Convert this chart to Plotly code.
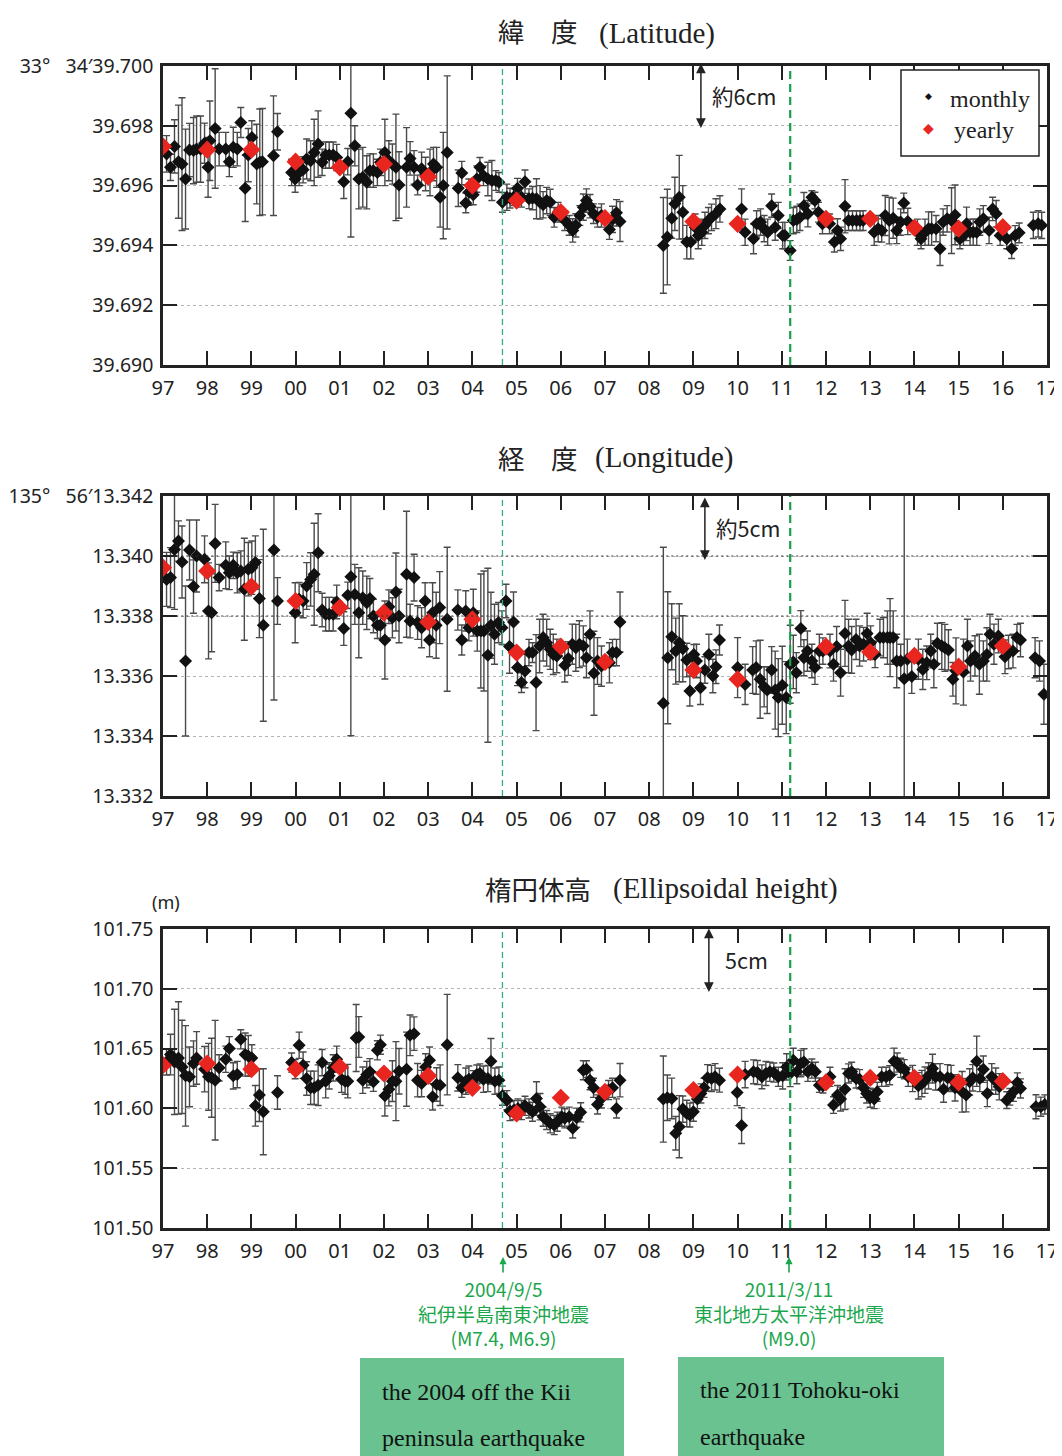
import plotly.graph_objects as go

# ---------------- DATA ----------------
lat_t = [1997.08,1997.17,1997.26,1997.35,1997.43,1997.51,1997.60,1997.69,1997.76,1997.85,1997.94,
         1998.02,1998.06,1998.18,1998.27,1998.42,1998.50,1998.59,1998.68,1998.76,1998.86,1998.93,
         1999.01,1999.12,1999.19,1999.25,1999.50,1999.59,1999.91,1999.99,
         2000.08,2000.17,2000.25,2000.34,2000.42,2000.51,2000.60,2000.68,2000.76,2000.85,2000.93,
         2001.09,2001.18,2001.25,2001.34,2001.43,2001.52,2001.61,2001.68,2001.76,2001.85,2001.92,
         2002.02,2002.11,2002.19,2002.27,2002.34,2002.51,2002.59,2002.68,2002.76,2002.85,2002.94,
         2003.04,2003.12,2003.19,2003.27,2003.34,2003.43,2003.68,2003.76,2003.85,2003.92,
         2004.02,2004.10,2004.17,2004.25,2004.35,2004.44,2004.53,2004.60,2004.68,2004.78,2004.85,2004.93,
         2005.02,2005.11,2005.19,2005.28,2005.36,2005.45,2005.53,2005.60,2005.68,2005.76,2005.85,2005.94,
         2006.09,2006.19,2006.27,2006.34,2006.43,2006.51,2006.58,2006.66,2006.74,2006.83,2006.92,
         2007.10,2007.17,2007.26,2007.34,
         2008.32,2008.41,2008.51,2008.58,2008.68,2008.76,2008.85,2008.94,
         2009.04,2009.11,2009.19,2009.26,2009.34,2009.41,2009.51,2009.60,
         2010.09,2010.17,2010.36,2010.43,2010.52,2010.60,2010.68,2010.77,2010.85,2010.92,
         2011.02,2011.07,2011.19,2011.26,2011.34,2011.41,2011.50,2011.59,2011.68,2011.75,2011.83,2011.92,
         2012.08,2012.19,2012.26,2012.33,2012.43,2012.51,2012.60,2012.69,2012.77,2012.84,
         2013.09,2013.18,2013.26,2013.34,2013.43,2013.52,2013.60,2013.69,2013.76,2013.85,
         2014.07,2014.15,2014.24,2014.32,2014.39,2014.49,2014.58,2014.65,2014.74,2014.84,2014.92,
         2015.03,2015.11,2015.18,2015.26,2015.33,2015.41,2015.48,2015.56,2015.69,2015.77,2015.85,2015.94,
         2016.09,2016.20,2016.28,2016.37,2016.69,2016.80,2016.88]
lat_v = [39.69706,39.69661,39.69731,39.69680,39.69672,39.69622,39.69719,39.69717,39.69722,39.69722,39.69742,
         39.69661,39.69750,39.69791,39.69722,39.69722,39.69680,39.69728,39.69722,39.69811,39.69591,39.69702,
         39.69761,39.69672,39.69678,39.69680,39.69700,39.69780,39.69644,39.69622,
         39.69644,39.69653,39.69689,39.69683,39.69711,39.69739,39.69678,39.69702,39.69702,39.69702,39.69694,
         39.69613,39.69680,39.69842,39.69733,39.69622,39.69628,39.69611,39.69650,39.69650,39.69644,39.69678,
         39.69711,39.69683,39.69672,39.69661,39.69602,39.69661,39.69691,39.69661,39.69602,39.69656,39.69639,
         39.69644,39.69672,39.69661,39.69561,39.69600,39.69711,39.69591,39.69642,39.69542,39.69578,
         39.69569,39.69622,39.69661,39.69633,39.69622,39.69617,39.69617,39.69611,39.69544,39.69561,39.69558,39.69561,
         39.69591,39.69561,39.69613,39.69556,39.69558,39.69556,39.69544,39.69536,39.69550,39.69544,39.69494,39.69511,
         39.69483,39.69467,39.69450,39.69467,39.69500,39.69528,39.69550,39.69531,39.69506,39.69494,39.69500,
         39.69453,39.69487,39.69509,39.69480,
         39.69400,39.69428,39.69491,39.69539,39.69561,39.69511,39.69411,39.69411,
         39.69461,39.69433,39.69444,39.69467,39.69483,39.69494,39.69506,39.69522,
         39.69522,39.69444,39.69422,39.69472,39.69478,39.69456,39.69444,39.69533,39.69461,39.69500,
         39.69433,39.69433,39.69383,39.69483,39.69487,39.69494,39.69533,39.69506,39.69561,39.69550,39.69511,39.69472,
         39.69472,39.69411,39.69450,39.69422,39.69531,39.69483,39.69483,39.69483,39.69483,39.69483,
         39.69444,39.69456,39.69450,39.69500,39.69483,39.69491,39.69450,39.69478,39.69542,39.69480,
         39.69444,39.69422,39.69444,39.69456,39.69456,39.69456,39.69389,39.69478,39.69489,39.69483,39.69502,
         39.69422,39.69433,39.69472,39.69444,39.69444,39.69444,39.69478,39.69489,39.69450,39.69522,39.69506,39.69433,
         39.69422,39.69389,39.69433,39.69442,39.69467,39.69472,39.69467]
lat_e = [.00061,.00044,.00089,.00189,.00222,.00167,.00089,.00111,.00111,.00111,.00067,
         .00100,.00133,.00200,.00056,.00056,.00050,.00067,.00056,.00050,.00111,.00089,
         .00056,.00133,.00178,.00178,.00200,.00061,.00044,.00044,
         .00044,.00044,.00067,.00067,.00111,.00111,.00044,.00044,.00044,.00044,.00044,
         .00056,.00044,.00414,.00067,.00100,.00100,.00089,.00056,.00056,.00044,.00044,
         .00111,.00067,.00067,.00178,.00111,.00133,.00056,.00056,.00033,.00056,.00056,
         .00078,.00056,.00067,.00100,.00178,.00256,.00061,.00039,.00033,.00044,
         .00033,.00044,.00033,.00033,.00056,.00067,.00033,.00033,.00033,.00044,.00033,.00028,
         .00033,.00033,.00039,.00033,.00039,.00067,.00056,.00044,.00044,.00044,.00033,.00033,
         .00033,.00033,.00039,.00039,.00033,.00044,.00039,.00039,.00033,.00033,.00039,
         .00033,.00044,.00044,.00067,
         .00160,.00160,.00067,.00089,.00140,.00089,.00056,.00056,
         .00044,.00044,.00044,.00044,.00044,.00044,.00050,.00044,
         .00067,.00044,.00050,.00044,.00044,.00044,.00044,.00039,.00044,.00044,
         .00044,.00044,.00033,.00044,.00044,.00044,.00044,.00044,.00022,.00028,.00033,.00033,
         .00033,.00033,.00039,.00039,.00089,.00033,.00033,.00033,.00033,.00033,
         .00044,.00044,.00039,.00067,.00078,.00067,.00044,.00044,.00033,.00044,
         .00044,.00033,.00044,.00056,.00056,.00044,.00056,.00044,.00044,.00110,.00100,
         .00033,.00033,.00056,.00044,.00044,.00044,.00044,.00044,.00044,.00039,.00044,.00033,
         .00033,.00033,.00033,.00033,.00044,.00044,.00044]

lon_t = [1997.08,1997.17,1997.26,1997.35,1997.43,1997.51,1997.60,1997.69,1997.76,1997.94,
         1998.03,1998.10,1998.18,1998.27,1998.42,1998.50,1998.59,1998.68,1998.76,1998.84,1998.93,
         1999.01,1999.09,1999.18,1999.27,1999.51,1999.59,1999.99,
         2000.08,2000.17,2000.25,2000.34,2000.42,2000.51,2000.60,2000.68,2000.76,2000.85,2000.93,
         2001.09,2001.18,2001.25,2001.34,2001.43,2001.52,2001.61,2001.68,2001.76,2001.85,2001.92,
         2002.02,2002.11,2002.19,2002.27,2002.34,2002.51,2002.59,2002.68,2002.76,2002.85,2002.93,
         2003.03,2003.10,2003.18,2003.26,2003.43,2003.67,2003.76,2003.85,2003.92,
         2004.02,2004.11,2004.19,2004.26,2004.35,2004.42,2004.50,2004.59,2004.67,2004.76,2004.84,2004.93,
         2005.02,2005.11,2005.19,2005.28,2005.36,2005.44,2005.52,2005.60,2005.68,2005.76,2005.83,2005.91,
         2006.09,2006.17,2006.26,2006.34,2006.42,2006.51,2006.58,2006.66,2006.75,2006.83,2006.92,
         2007.10,2007.17,2007.26,2007.34,
         2008.32,2008.42,2008.51,2008.60,2008.68,2008.76,2008.85,2008.92,
         2009.01,2009.07,2009.16,2009.26,2009.35,2009.44,2009.51,2009.59,
         2010.00,2010.17,2010.34,2010.42,2010.51,2010.60,2010.67,2010.77,2010.85,2010.92,
         2011.01,2011.10,2011.19,2011.26,2011.33,2011.43,2011.50,2011.58,2011.68,2011.75,2011.85,2011.93,
         2012.09,2012.17,2012.24,2012.33,2012.43,2012.51,2012.58,2012.68,2012.76,2012.85,2012.93,
         2013.01,2013.11,2013.22,2013.30,2013.39,2013.45,2013.52,2013.60,2013.69,2013.77,2013.84,2013.94,
         2014.09,2014.19,2014.28,2014.37,2014.44,2014.52,2014.62,2014.69,2014.77,2014.87,2014.94,
         2015.11,2015.20,2015.27,2015.37,2015.47,2015.56,2015.64,2015.71,2015.80,2015.90,
         2016.05,2016.13,2016.23,2016.32,2016.40,2016.73,2016.83,2016.93]
lon_v = [13.33922,13.33928,13.34022,13.34050,13.33980,13.33650,13.34020,13.33898,13.34000,13.33989,
         13.33817,13.33811,13.34042,13.33928,13.33969,13.33944,13.33969,13.33944,13.33950,13.33889,13.33956,
         13.33961,13.33978,13.33858,13.33769,13.34020,13.33850,13.33811,
         13.33856,13.33850,13.33900,13.33922,13.33939,13.34011,13.33820,13.33806,13.33806,13.33806,13.33847,
         13.33758,13.33869,13.33931,13.33872,13.33811,13.33861,13.33844,13.33858,13.33800,13.33769,13.33769,
         13.33720,13.33831,13.33794,13.33880,13.33800,13.33939,13.33783,13.33928,13.33778,13.33761,13.33850,
         13.33720,13.33811,13.33769,13.33828,13.33789,13.33820,13.33720,13.33817,13.33761,
         13.33811,13.33750,13.33750,13.33750,13.33669,13.33769,13.33739,13.33778,13.33761,13.33850,13.33698,13.33780,
         13.33628,13.33578,13.33617,13.33678,13.33678,13.33578,13.33700,13.33728,13.33711,13.33689,13.33672,13.33667,
         13.33636,13.33658,13.33706,13.33694,13.33706,13.33700,13.33661,13.33739,13.33609,13.33650,13.33633,
         13.33644,13.33678,13.33678,13.33780,
         13.33509,13.33661,13.33731,13.33683,13.33711,13.33691,13.33653,13.33550,
         13.33672,13.33650,13.33561,13.33620,13.33672,13.33600,13.33631,13.33720,
         13.33628,13.33572,13.33620,13.33628,13.33589,13.33564,13.33553,13.33620,13.33553,13.33528,
         13.33569,13.33528,13.33639,13.33647,13.33611,13.33758,13.33661,13.33683,13.33650,13.33628,13.33683,13.33683,
         13.33683,13.33639,13.33698,13.33611,13.33742,13.33700,13.33687,13.33722,13.33700,13.33706,13.33742,
         13.33711,13.33672,13.33728,13.33728,13.33728,13.33728,13.33728,13.33650,13.33650,13.33591,13.33656,13.33598,
         13.33656,13.33622,13.33644,13.33683,13.33639,13.33709,13.33700,13.33694,13.33687,13.33589,13.33617,
         13.33613,13.33700,13.33650,13.33667,13.33639,13.33650,13.33672,13.33739,13.33706,13.33733,
         13.33664,13.33680,13.33683,13.33728,13.33720,13.33661,13.33650,13.33539]
lon_e = [.00090,.00100,.00200,.00067,.00120,.00250,.00100,.00089,.00120,.00078,
         .00160,.00130,.00130,.00044,.00078,.00056,.00044,.00067,.00067,.00170,.00089,
         .00089,.00089,.00130,.00320,.00500,.00078,.00100,
         .00056,.00056,.00078,.00089,.00170,.00130,.00056,.00056,.00056,.00056,.00056,
         .00056,.00044,.00530,.00100,.00150,.00089,.00089,.00067,.00056,.00044,.00044,
         .00130,.00056,.00067,.00130,.00089,.00210,.00056,.00078,.00056,.00067,.00061,
         .00056,.00100,.00110,.00120,.00240,.00067,.00050,.00067,.00044,
         .00078,.00067,.00190,.00200,.00290,.00110,.00100,.00067,.00056,.00056,.00089,.00100,
         .00060,.00033,.00056,.00044,.00033,.00160,.00089,.00078,.00078,.00067,.00067,.00056,
         .00056,.00056,.00067,.00078,.00078,.00067,.00067,.00078,.00140,.00078,.00067,
         .00067,.00044,.00044,.00100,
         .00520,.00220,.00110,.00110,.00130,.00110,.00056,.00050,
         .00033,.00056,.00056,.00044,.00067,.00056,.00056,.00050,
         .00100,.00067,.00078,.00089,.00130,.00067,.00078,.00078,.00130,.00130,
         .00130,.00120,.00130,.00089,.00067,.00060,.00060,.00067,.00056,.00056,.00056,.00044,
         .00056,.00056,.00067,.00078,.00110,.00089,.00078,.00067,.00067,.00056,.00067,
         .00056,.00044,.00061,.00067,.00089,.00130,.00089,.00089,.00056,.00650,.00067,.00056,
         .00067,.00067,.00056,.00056,.00078,.00067,.00078,.00078,.00067,.00056,.00110,
         .00110,.00089,.00067,.00067,.00100,.00067,.00089,.00067,.00067,.00056,
         .00056,.00056,.00056,.00044,.00056,.00067,.00067,.00100]

hgt_t = [1997.08,1997.17,1997.26,1997.35,1997.43,1997.51,1997.60,1997.69,1997.76,1997.94,
         1998.03,1998.10,1998.18,1998.27,1998.42,1998.50,1998.59,1998.68,1998.76,1998.86,1998.93,
         1999.01,1999.09,1999.18,1999.27,1999.59,1999.91,1999.99,
         2000.08,2000.17,2000.25,2000.34,2000.42,2000.51,2000.60,2000.68,2000.76,2000.85,2000.93,
         2001.04,2001.12,2001.18,2001.37,2001.43,2001.52,2001.61,2001.68,2001.76,2001.85,2001.92,
         2002.02,2002.11,2002.19,2002.27,2002.34,2002.51,2002.59,2002.68,2002.76,2002.85,2002.94,
         2003.03,2003.10,2003.19,2003.27,2003.43,2003.67,2003.76,2003.85,2003.92,
         2004.02,2004.10,2004.17,2004.25,2004.35,2004.42,2004.51,2004.60,2004.68,2004.78,2004.85,2004.94,
         2005.03,2005.11,2005.19,2005.28,2005.36,2005.45,2005.53,2005.60,2005.68,2005.76,2005.85,2005.92,
         2006.02,2006.09,2006.19,2006.27,2006.36,2006.45,2006.51,2006.58,2006.66,2006.74,2006.83,2006.92,
         2007.08,2007.17,2007.26,2007.34,
         2008.32,2008.41,2008.51,2008.60,2008.68,2008.76,2008.85,2008.92,
         2009.00,2009.09,2009.17,2009.24,2009.32,2009.41,2009.49,2009.59,2009.99,
         2010.09,2010.17,2010.36,2010.45,2010.55,2010.64,2010.73,2010.82,2010.92,
         2011.02,2011.11,2011.19,2011.26,2011.34,2011.43,2011.50,2011.59,2011.68,2011.76,2011.85,2011.93,
         2012.09,2012.17,2012.26,2012.33,2012.43,2012.51,2012.58,2012.68,2012.76,2012.85,2012.92,
         2013.00,2013.09,2013.16,2013.26,2013.36,2013.44,2013.54,2013.61,2013.69,2013.77,2013.86,2013.96,
         2014.09,2014.17,2014.24,2014.32,2014.41,2014.48,2014.58,2014.66,2014.75,2014.83,2014.92,
         2015.08,2015.17,2015.25,2015.32,2015.41,2015.48,2015.56,2015.65,2015.75,2015.84,2015.92,
         2016.09,2016.16,2016.24,2016.33,2016.40,2016.75,2016.86,2016.95]
hgt_v = [101.6389,101.6450,101.6389,101.6422,101.6347,101.6272,101.6264,101.6375,101.6422,101.6328,
         101.6264,101.6256,101.6236,101.6339,101.6411,101.6500,101.6272,101.6283,101.6578,101.6450,101.6439,
         101.6422,101.6022,101.6111,101.5972,101.6133,101.6383,101.6328,
         101.6528,101.6361,101.6250,101.6172,101.6172,101.6194,101.6383,101.6228,101.6272,101.6339,101.6411,
         101.6244,101.6228,101.6228,101.6589,101.6597,101.6236,101.6283,101.6306,101.6222,101.6486,101.6533,
         101.6106,101.6161,101.6228,101.6228,101.6311,101.6328,101.6611,101.6625,101.6236,101.6208,101.6347,
         101.6403,101.6097,101.6200,101.6194,101.6533,101.6256,101.6172,101.6228,101.6244,
         101.6236,101.6283,101.6292,101.6244,101.6250,101.6394,101.6228,101.6236,101.6106,101.6069,101.5978,101.5986,
         101.6000,101.5986,101.6022,101.6000,101.5972,101.6083,101.6014,101.5931,101.5903,101.5875,101.5861,101.5889,
         101.5931,101.5917,101.5931,101.5833,101.5922,101.5967,101.6319,101.6328,101.6236,101.6172,101.6033,101.6083,
         101.6153,101.6172,101.6000,101.6236,
         101.6078,101.6089,101.6083,101.5792,101.5847,101.5994,101.5958,101.5944,
         101.5972,101.6078,101.6125,101.6172,101.6256,101.6250,101.6264,101.6236,101.6133,
         101.5856,101.6283,101.6306,101.6300,101.6264,101.6292,101.6306,101.6300,101.6264,
         101.6272,101.6347,101.6292,101.6403,101.6306,101.6375,101.6389,101.6306,101.6333,101.6306,101.6194,101.6189,
         101.6264,101.6028,101.6111,101.6078,101.6161,101.6292,101.6306,101.6250,101.6244,101.6172,101.6125,
         101.6089,101.6078,101.6139,101.6264,101.6264,101.6278,101.6394,101.6383,101.6339,101.6328,101.6264,101.6250,
         101.6189,101.6208,101.6236,101.6272,101.6333,101.6264,101.6264,101.6161,101.6256,101.6250,101.6172,
         101.6139,101.6111,101.6222,101.6256,101.6394,101.6250,101.6328,101.6125,101.6264,101.6228,101.6181,
         101.6069,101.6097,101.6139,101.6217,101.6167,101.6014,101.6014,101.6033]
hgt_e = [.011,.017,.044,.047,.039,.042,.025,.019,.022,.019,
         .028,.033,.050,.011,.011,.010,.011,.011,.008,.018,.017,
         .011,.017,.022,.036,.014,.008,.008,
         .011,.011,.014,.014,.014,.017,.011,.014,.011,.011,.011,
         .011,.011,.014,.028,.017,.011,.011,.011,.008,.008,.008,
         .017,.014,.017,.033,.019,.031,.017,.014,.014,.011,.011,
         .011,.011,.014,.017,.042,.011,.008,.011,.011,
         .008,.008,.008,.011,.011,.019,.011,.011,.008,.008,.008,.008,
         .008,.008,.008,.008,.008,.014,.011,.008,.008,.008,.008,.008,
         .008,.008,.008,.008,.008,.008,.008,.007,.008,.008,.008,.008,
         .008,.008,.008,.014,
         .036,.019,.017,.014,.026,.011,.011,.010,
         .008,.008,.008,.008,.011,.011,.011,.010,.011,
         .015,.011,.010,.010,.010,.010,.008,.008,.008,
         .011,.011,.011,.010,.010,.011,.011,.008,.008,.008,.006,.006,
         .008,.007,.008,.010,.017,.008,.008,.008,.008,.008,.008,
         .008,.008,.008,.008,.008,.008,.011,.008,.008,.008,.008,.011,
         .011,.011,.011,.011,.012,.011,.011,.011,.011,.011,.011,
         .017,.014,.011,.011,.021,.011,.011,.011,.011,.011,.011,
         .007,.007,.008,.008,.008,.010,.008,.008]

yearly_x = [1997,1998,1999,2000,2001,2002,2003,2004,2005,2006,2007,2009,2010,2012,2013,2014,2015,2016]
lat_yearly = [39.69731,39.69720,39.69720,39.69680,39.69661,39.69672,39.69630,39.69600,39.69550,39.69511,39.69491,
              39.69480,39.69472,39.69489,39.69489,39.69459,39.69456,39.69461]
lon_yearly = [13.33961,13.33950,13.33898,13.33850,13.33828,13.33811,13.33780,13.33789,13.33678,13.33698,13.33647,
              13.33620,13.33589,13.33698,13.33680,13.33667,13.33631,13.33700]
hgt_yearly = [101.6361,101.6375,101.6328,101.6328,101.6347,101.6292,101.6272,101.6172,101.5958,101.6089,101.6139,
              101.6153,101.6283,101.6217,101.6256,101.6256,101.6217,101.6228]

x_ticks = list(range(1997, 2018))
x_labels = ["97","98","99","00","01","02","03","04","05","06","07",
            "08","09","10","11","12","13","14","15","16","17"]
lat_ticks = [39.690, 39.692, 39.694, 39.696, 39.698, 39.700]
lat_labels = ["39.690", "39.692", "39.694", "39.696", "39.698", "33°\u00a0\u00a0\u00a034′39.700"]
lon_ticks = [13.332, 13.334, 13.336, 13.338, 13.340, 13.342]
lon_labels = ["13.332", "13.334", "13.336", "13.338", "13.340", "135°\u00a0\u00a0\u00a056′13.342"]
hgt_ticks = [101.50, 101.55, 101.60, 101.65, 101.70, 101.75]
hgt_labels = ["101.50", "101.55", "101.60", "101.65", "101.70", "101.75"]
quake_x = [2004.68, 2011.19]

for a, b, c in [(lat_t, lat_v, lat_e), (lon_t, lon_v, lon_e), (hgt_t, hgt_v, hgt_e)]:
    assert len(a) == len(b) == len(c), (len(a), len(b), len(c))

# ---------------- FIGURE ----------------
W, H = 1062, 1456
OFF = 8  # page body margin of the html page
def px(x): return (x - OFF) / W
def py(y): return 1 - (y - OFF) / H

SANS = "Noto Sans, Noto Sans CJK JP, sans-serif"
CJK = "Noto Sans CJK JP, Noto Sans, sans-serif"
SERIF = "Liberation Serif, DejaVu Serif, serif"
GREEN = "#1aa64b"

fig = go.Figure()
panels = [
    (lat_t, lat_v, lat_e, lat_yearly, "x", "y"),
    (lon_t, lon_v, lon_e, lon_yearly, "x2", "y2"),
    (hgt_t, hgt_v, hgt_e, hgt_yearly, "x3", "y3"),
]
for i, (t, v, e, yv, xa, ya) in enumerate(panels):
    fig.add_trace(go.Scatter(
        x=t, y=v, mode="markers", xaxis=xa, yaxis=ya, showlegend=False,
        marker=dict(symbol="diamond", size=10, color="#111111"),
        error_y=dict(type="data", array=e, visible=True, color="#4a4a4a", thickness=1.4, width=3.5),
        hoverinfo="skip"))
    fig.add_trace(go.Scatter(
        x=yearly_x, y=yv, mode="markers", xaxis=xa, yaxis=ya, showlegend=False,
        marker=dict(symbol="diamond", size=14, color="#e8251f"),
        hoverinfo="skip"))

x_dom = [px(163), px(1047)]
y_doms = [[py(365), py(66)], [py(796), py(496)], [py(1228), py(929)]]
y_specs = [([39.690, 39.700], lat_ticks, lat_labels),
           ([13.332, 13.342], lon_ticks, lon_labels),
           ([101.50, 101.75], hgt_ticks, hgt_labels)]

xtickfont = dict(family=SANS, size=20, color="#222222")
ytickfont = dict(family=SANS, size=19.5, color="#222222")
layout = dict(width=W, height=H, margin=dict(l=0, r=0, t=0, b=0, pad=0, autoexpand=False), autosize=False,
              paper_bgcolor="white", plot_bgcolor="white", showlegend=False)
for i in range(3):
    sx = "" if i == 0 else str(i + 1)
    layout["xaxis" + sx] = dict(
        domain=x_dom, anchor="y" + sx, range=[1997, 2017], tickvals=x_ticks, ticktext=x_labels,
        ticks="inside", ticklen=14, tickwidth=2, tickcolor="#222", mirror="ticks",
        showline=True, linewidth=2.5, linecolor="#222", showgrid=False, zeroline=False,
        tickfont=xtickfont, fixedrange=True, automargin=False, ticklabelstandoff=3)
    rng, tv, tt = y_specs[i]
    layout["yaxis" + sx] = dict(
        domain=y_doms[i], anchor="x" + sx, range=rng, tickvals=tv, ticktext=tt,
        ticks="inside", ticklen=14, tickwidth=2, tickcolor="#222", mirror="ticks",
        showline=True, linewidth=2.5, linecolor="#222", showgrid=True, gridcolor="#b5b5b5",
        griddash="dot", gridwidth=1, zeroline=False, tickfont=ytickfont, fixedrange=True,
        automargin=False, ticklabelstandoff=3)
fig.update_layout(**layout)

shapes = []
# darker dotted grid lines in the longitude panel
for gv in [13.338, 13.340]:
    shapes.append(dict(type="line", xref="x2 domain", yref="y2", x0=0.015, x1=0.985, y0=gv, y1=gv,
                       line=dict(color="#333333", width=1.2, dash="2px,3px")))
# earthquake lines
for i in range(3):
    sx = "" if i == 0 else str(i + 1)
    shapes.append(dict(type="line", xref="x" + sx, yref="y" + sx + " domain",
                       x0=quake_x[0], x1=quake_x[0], y0=0, y1=1,
                       line=dict(color="#2fae88", width=1.3, dash="6px,4px")))
    shapes.append(dict(type="line", xref="x" + sx, yref="y" + sx + " domain",
                       x0=quake_x[1], x1=quake_x[1], y0=0, y1=1,
                       line=dict(color="#17a04a", width=2.2, dash="8px,5px")))
# legend box
shapes.append(dict(type="rect", xref="paper", yref="paper", x0=px(901), x1=px(1039), y0=py(156), y1=py(70),
                   line=dict(color="#222", width=1.5), fillcolor="white"))
# green boxes
shapes.append(dict(type="rect", xref="paper", yref="paper", x0=px(360), x1=px(624), y0=py(1464), y1=py(1358),
                   line=dict(width=0), fillcolor="#69c290"))
shapes.append(dict(type="rect", xref="paper", yref="paper", x0=px(678), x1=px(944), y0=py(1464), y1=py(1357),
                   line=dict(width=0), fillcolor="#69c290"))
fig.update_layout(shapes=shapes)

ann = []
def txt(x, y, s, size, family, color="#222222", xanchor="center"):
    ann.append(dict(x=px(x), y=py(y), xref="paper", yref="paper", text=s, showarrow=False,
                    font=dict(size=size, family=family, color=color), xanchor=xanchor, yanchor="middle"))

# panel titles
txt(538, 31, "緯　度", 26.5, CJK)
txt(657, 33, "(Latitude)", 29, SERIF)
txt(538, 457, "経　度", 26.5, CJK)
txt(664, 457, "(Longitude)", 29, SERIF)
txt(538, 888, "楕円体高", 26.5, CJK)
txt(725, 888, "(Ellipsoidal height)", 29, SERIF)
txt(166, 902, "(m)", 18, SANS)

# legend
txt(928, 96, "◆", 9, "DejaVu Sans", "#111111")
txt(948, 99, "monthly", 24, SERIF, xanchor="left")
txt(928, 128, "◆", 14, "DejaVu Sans", "#e8251f")
txt(952, 130, "yearly", 24, SERIF, xanchor="left")

# displacement arrows
arrows = [("x", "y", 2009.17, 39.69793, 39.70013, 744, 95, "約6cm"),
          ("x2", "y2", 2009.26, 13.33987, 13.34200, 748, 527, "約5cm"),
          ("x3", "y3", 2009.35, 101.6973, 101.7517, 746, 959, "5cm")]
for xa, ya, xv, y_tip, y_top, tx, ty, label in arrows:
    ann.append(dict(x=xv, y=y_tip, ax=xv, ay=y_top, xref=xa, yref=ya, axref=xa, ayref=ya,
                    text="", showarrow=True, arrowside="end+start", arrowhead=2, startarrowhead=2,
                    arrowsize=1.3, startarrowsize=1.3, arrowwidth=1.5, arrowcolor="#222222",
                    standoff=0, startstandoff=0))
    txt(tx, ty, label, 21.5, CJK)

# earthquake labels (arrow + three lines of text)
for xc, lines in [(503, ["2004/9/5", "紀伊半島南東沖地震", "(M7.4, M6.9)"]),
                  (789, ["2011/3/11", "東北地方太平洋沖地震", "(M9.0)"])]:
    ann.append(dict(x=px(xc), y=py(1257), ax=0, ay=17, xref="paper", yref="paper",
                    axref="pixel", ayref="pixel", text="", showarrow=True, arrowhead=2,
                    arrowsize=0.9, arrowwidth=1.6, arrowcolor=GREEN, standoff=0))
    ann.append(dict(x=px(xc), y=py(1313), xref="paper", yref="paper", text="<br>".join(lines),
                    showarrow=False, align="center", xanchor="center", yanchor="middle",
                    font=dict(size=19, family=CJK, color=GREEN)))

# english boxes
txt(380, 1392, "the 2004 off the Kii", 24, SERIF, "#111111", "left")
txt(380, 1438, "peninsula earthquake", 24, SERIF, "#111111", "left")
txt(698, 1390, "the 2011 Tohoku-oki", 24, SERIF, "#111111", "left")
txt(698, 1437, "earthquake", 24, SERIF, "#111111", "left")

fig.update_layout(annotations=ann)
fig.write_html("out.html")
